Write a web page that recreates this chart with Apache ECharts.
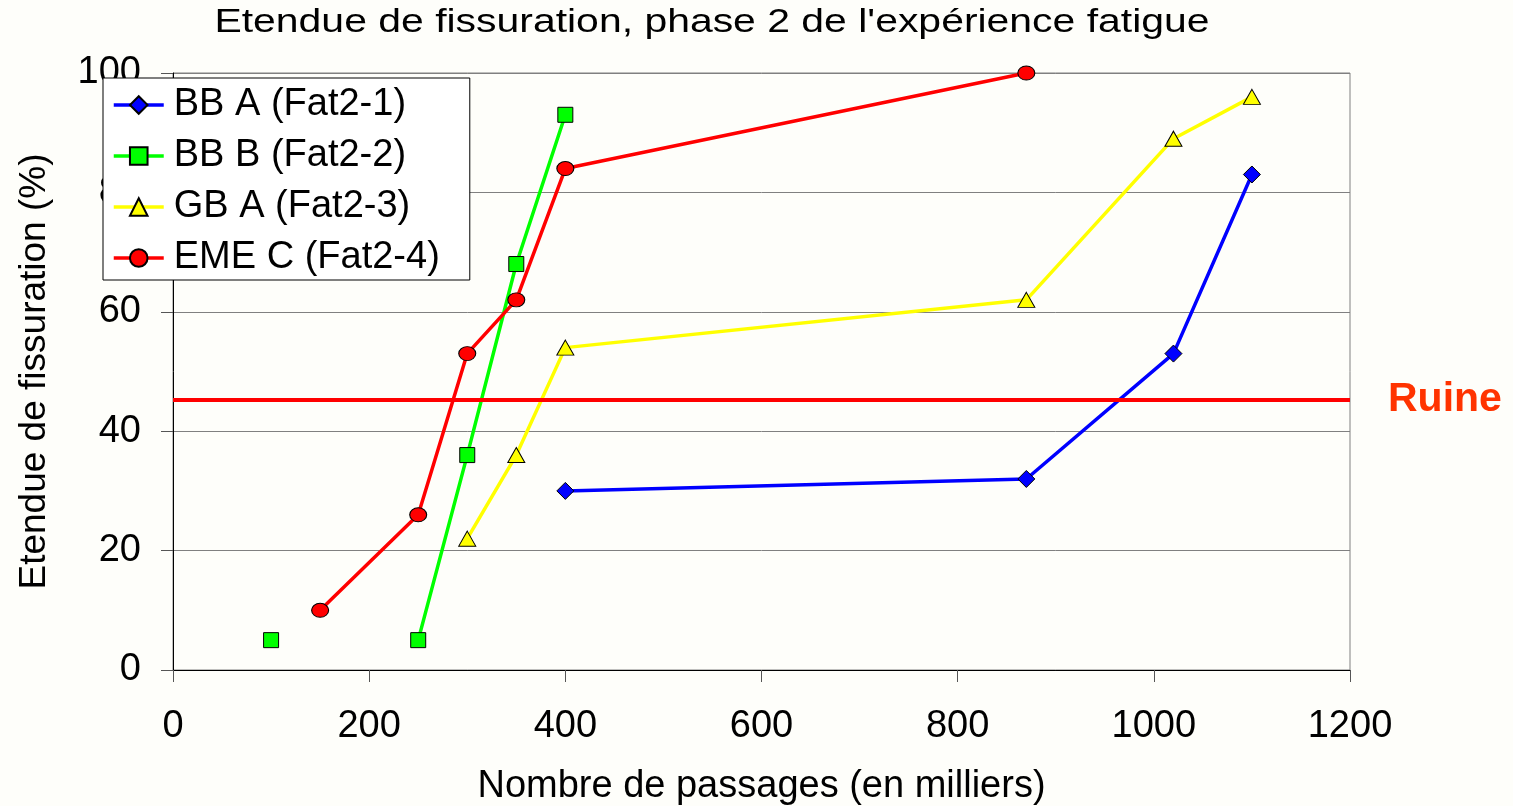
<!DOCTYPE html>
<html>
<head>
<meta charset="utf-8">
<script src="https://cdn.jsdelivr.net/npm/echarts@6/dist/echarts.min.js"></script>
<style>
html,body{margin:0;padding:0;background:#fefefa;}
#chart{width:1513px;height:806px;}
</style>
</head>
<body>
<div id="chart"></div>
<script>
const titleText = "Etendue de fissuration, phase 2 de l'expérience fatigue";
const xAxisName = "Nombre de passages (en milliers)";
const yAxisName = "Etendue de fissuration (%)";
const seriesNames = ["BB A (Fat2-1)", "BB B (Fat2-2)", "GB A (Fat2-3)", "EME C (Fat2-4)"];

const bbA_x = [400, 870, 1020, 1100];
const bbA_y = [30, 32, 53, 83];

const bbB_x = [100, null, 250, 300, 350, 400];
const bbB_y = [5, null, 5, 36, 68, 93];

const gbA_x = [300, 350, 400, 870, 1020, 1100];
const gbA_y = [22, 36, 54, 62, 89, 96];

const emeC_x = [150, 250, 300, 350, 400, 870];
const emeC_y = [10, 26, 53, 62, 84, 100];

const ruineLevel = 45.2;
const ruineLabel = "Ruine";

const xTicks = {min: 0, max: 1200, interval: 200};
const yTicks = {min: 0, max: 100, interval: 20};

function pairs(xs, ys) {
  return xs.map((x, i) => (x === null || ys[i] === null) ? ['-', '-'] : [x, ys[i]]);
}

const FONT = '"Liberation Sans", Arial, sans-serif';
const ellipse = 'path://M0,50A50,50 0 1,1 100,50A50,50 0 1,1 0,50Z';

const chart = echarts.init(document.getElementById('chart'), null, {renderer: 'canvas'});

const lineBase = {
  type: 'line',
  showSymbol: true,
  connectNulls: false,
  animation: false,
  z: 3
};

chart.setOption({
  backgroundColor: '#fefefa',
  animation: false,
  graphic: [{
    type: 'text',
    x: 712,
    y: 23,
    scaleX: 1.24,
    style: {
      text: titleText,
      font: '33px ' + FONT,
      fill: '#000',
      textAlign: 'center',
      textVerticalAlign: 'middle'
    }
  }],
  grid: {
    left: 173, right: 163, top: 73, bottom: 136,
    outerBoundsMode: 'none',
    containLabel: false,
    show: true, borderColor: '#808080', borderWidth: 1, backgroundColor: 'transparent'
  },
  legend: {
    orient: 'vertical',
    left: 103, top: 78,
    data: seriesNames,
    backgroundColor: '#ffffff',
    borderColor: '#000',
    borderWidth: 1,
    borderRadius: 0,
    padding: [7, 30, 2, 9],
    itemWidth: 50,
    itemHeight: 22,
    itemGap: 11,
    lineStyle: {width: 3.5},
    textStyle: {fontFamily: FONT, fontSize: 38, color: '#000', lineHeight: 40, padding: [0, 0, 0, 5]},
    z: 10
  },
  xAxis: {
    type: 'value',
    min: xTicks.min, max: xTicks.max, interval: xTicks.interval,
    name: xAxisName,
    nameLocation: 'middle',
    nameGap: 98,
    nameTextStyle: {fontFamily: FONT, fontSize: 38, color: '#000'},
    axisLine: {show: true, lineStyle: {color: '#000', width: 1}},
    axisTick: {show: true, length: 12, lineStyle: {color: '#555'}},
    axisLabel: {fontFamily: FONT, fontSize: 38, color: '#000', margin: 38, formatter: v => String(v)},
    splitLine: {show: false}
  },
  yAxis: {
    type: 'value',
    min: yTicks.min, max: yTicks.max, interval: yTicks.interval,
    name: yAxisName,
    nameLocation: 'middle',
    nameGap: 120,
    nameRotate: 90,
    nameTextStyle: {fontFamily: FONT, fontSize: 37, color: '#000'},
    axisLine: {show: true, lineStyle: {color: '#000', width: 1}},
    axisTick: {show: true, length: 12, lineStyle: {color: '#555'}},
    axisLabel: {fontFamily: FONT, fontSize: 38, color: '#000', margin: 32, formatter: v => String(v)},
    splitLine: {show: true, lineStyle: {color: '#808080', width: 1}}
  },
  series: [
    {
      type: 'line',
      name: 'ruine',
      data: [],
      silent: true,
      markLine: {
        silent: true,
        symbol: 'none',
        animation: false,
        lineStyle: {color: '#ff0000', width: 4, type: 'solid'},
        label: {
          show: true,
          position: 'end',
          distance: 38,
          formatter: ruineLabel,
          fontFamily: FONT,
          fontSize: 41,
          fontWeight: 'bold',
          color: '#ff3300'
        },
        data: [{yAxis: ruineLevel}]
      },
      z: 2
    },
    Object.assign({}, lineBase, {
      name: seriesNames[0],
      data: pairs(bbA_x, bbA_y),
      symbol: 'diamond',
      symbolSize: 17,
      lineStyle: {color: '#0000ff', width: 3.5},
      itemStyle: {color: '#0000ff', borderColor: '#000', borderWidth: 1}
    }),
    Object.assign({}, lineBase, {
      name: seriesNames[1],
      data: pairs(bbB_x, bbB_y),
      symbol: 'rect',
      symbolSize: 15,
      lineStyle: {color: '#00ff00', width: 3.5},
      itemStyle: {color: '#00ff00', borderColor: '#000', borderWidth: 1}
    }),
    Object.assign({}, lineBase, {
      name: seriesNames[2],
      data: pairs(gbA_x, gbA_y),
      symbol: 'triangle',
      symbolSize: [17, 15],
      lineStyle: {color: '#ffff00', width: 3.5},
      itemStyle: {color: '#ffff00', borderColor: '#000', borderWidth: 1}
    }),
    Object.assign({}, lineBase, {
      name: seriesNames[3],
      data: pairs(emeC_x, emeC_y),
      symbol: ellipse,
      symbolSize: [17, 14],
      lineStyle: {color: '#ff0000', width: 3.5},
      itemStyle: {color: '#ff0000', borderColor: '#000', borderWidth: 1}
    })
  ]
});
</script>
</body>
</html>
